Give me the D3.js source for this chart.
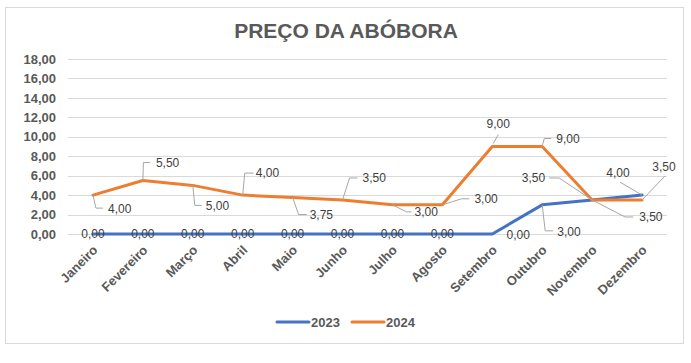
<!DOCTYPE html>
<html><head><meta charset="utf-8">
<script src="https://cdn.jsdelivr.net/npm/d3@7"></script>
<style>
html,body{margin:0;padding:0;background:#fff;}
svg{display:block;font-family:"Liberation Sans",Arial,sans-serif;}
</style></head>
<body>
<svg id="c" width="691" height="363"></svg>
<script>
// ---- data ----
const title = "PREÇO DA ABÓBORA";
const months = ["Janeiro","Fevereiro","Março","Abril","Maio","Junho","Julho","Agosto","Setembro","Outubro","Novembro","Dezembro"];
const seriesNames = ["2023","2024"];
const values2023 = [0,0,0,0,0,0,0,0,0,3,3.5,4];
const values2024 = [4,5.5,5,4,3.75,3.5,3,3,9,9,3.5,3.5];
const yTicks = [0,2,4,6,8,10,12,14,16,18];

// ---- label layout (offsets from each point: text [dx,dy,anchor], leader polyline) ----
const labels2023 = [
  {t:[0,0,"middle"]},{t:[0,0,"middle"]},{t:[0,0,"middle"]},{t:[0,0,"middle"]},
  {t:[0,0,"middle"]},{t:[0,0,"middle"]},{t:[0,0,"middle"]},{t:[0,0,"middle"]},
  {t:[26,1,"middle"]},
  {t:[15,27,"start"], l:[[0,0],[3,26],[11,26]]},
  {t:[47,17,"start"], l:[[0,0],[33,17],[41,17]]},
  {t:[-24,-22,"middle"], l:[[0,0],[-22,-13]]}
];
const labels2024 = [
  {t:[15,14,"start"], l:[[0,0],[3,13],[10,13]]},
  {t:[13,-18,"start"], l:[[0,0],[0.5,-18],[7,-18]]},
  {t:[13,20,"start"], l:[[0,0],[2,20],[9,20]]},
  {t:[13,-22,"start"], l:[[0,0],[2,-22],[11,-22]]},
  {t:[17,17,"start"], l:[[0,0],[6,17],[14,17]]},
  {t:[20,-22,"start"], l:[[0,0],[7,-22],[15,-22]]},
  {t:[22,7,"start"], l:[[0,0],[14,7],[19,7]]},
  {t:[32,-6,"start"], l:[[0,0],[19,-6],[27,-6]]},
  {t:[6,-23,"middle"], l:[[1,-3],[6,-12]]},
  {t:[14,-8,"start"], l:[[0,0],[2,-8],[9,-8]]},
  {t:[-47,-22,"end"], l:[[0,0],[-33,-22],[-43,-22]]},
  {t:[22,-33,"middle"], l:[[0,0],[23,-24]]}
];

const colors = ["#4472C4","#ED7D31"];
const svg = d3.select("#c");
const fmt = v => d3.format(".2f")(v).replace(".", ",");

// border
svg.append("rect").attr("x",5.5).attr("y",7.5).attr("width",678).attr("height",336)
  .attr("fill","#fff").attr("stroke","#d9d9d9").attr("stroke-width",1);

// title
svg.append("text").attr("x",346).attr("y",38).attr("text-anchor","middle")
  .attr("font-size",21).attr("font-weight","bold").attr("fill","#595959").text(title);

const x = d3.scalePoint().domain(months).range([68,667]).padding(0.5);
const y = d3.scaleLinear().domain([0,18]).range([234,59]);

// gridlines
svg.append("g").selectAll("line").data(yTicks).join("line")
  .attr("x1",68).attr("x2",667)
  .attr("y1",d=>Math.round(y(d))+0.5).attr("y2",d=>Math.round(y(d))+0.5)
  .attr("stroke","#d9d9d9").attr("stroke-width",1);

// y axis labels
const yAxis = d3.axisLeft(y).tickValues(yTicks).tickFormat(fmt).tickSize(0).tickPadding(0);
const gy = svg.append("g").attr("transform","translate(56,0)").call(yAxis);
gy.select(".domain").remove();
gy.selectAll("text").attr("font-size",13).attr("font-weight","bold").attr("fill","#595959")
  .attr("font-family","Liberation Sans, Arial, sans-serif");

// x axis labels
const xAxis = d3.axisBottom(x).tickSize(0).tickPadding(0);
const gx = svg.append("g").attr("transform","translate(0,234)").call(xAxis);
gx.select(".domain").remove();
gx.selectAll("text")
  .attr("font-size",13).attr("font-weight","bold").attr("fill","#595959")
  .attr("font-family","Liberation Sans, Arial, sans-serif")
  .attr("text-anchor","end").attr("dy",null).attr("y",null)
  .attr("transform","translate(5,17) rotate(-45)");

// lines
const series = [values2023, values2024];
const line = d3.line().x((d,i)=>x(months[i])).y(d=>y(d));
series.forEach((vals,si)=>{
  svg.append("path").datum(vals).attr("d",line).attr("fill","none")
    .attr("stroke",colors[si]).attr("stroke-width",3)
    .attr("stroke-linejoin","round").attr("stroke-linecap","round");
});

// data labels
const labelSets = [labels2023, labels2024];
series.forEach((vals,si)=>{
  const g = svg.append("g");
  vals.forEach((v,i)=>{
    const px = x(months[i]), py = y(v);
    const L = labelSets[si][i];
    if (L.l) {
      g.append("polyline")
        .attr("points", L.l.map(p=>[px+p[0],py+p[1]].join(",")).join(" "))
        .attr("fill","none").attr("stroke","#a6a6a6").attr("stroke-width",1);
    }
    g.append("text").attr("x",px+L.t[0]).attr("y",py+L.t[1]).attr("dy","0.35em")
      .attr("text-anchor",L.t[2]).attr("font-size",12).attr("fill","#404040")
      .text(fmt(v));
  });
});

// legend
const legX = [277,352];
seriesNames.forEach((n,i)=>{
  svg.append("line").attr("x1",legX[i]).attr("x2",legX[i]+32).attr("y1",322).attr("y2",322)
    .attr("stroke",colors[i]).attr("stroke-width",3).attr("stroke-linecap","round");
  svg.append("text").attr("x",legX[i]+34).attr("y",322).attr("dy","0.35em")
    .attr("font-size",13).attr("font-weight","bold").attr("fill","#595959").text(n);
});
</script>
</body></html>
